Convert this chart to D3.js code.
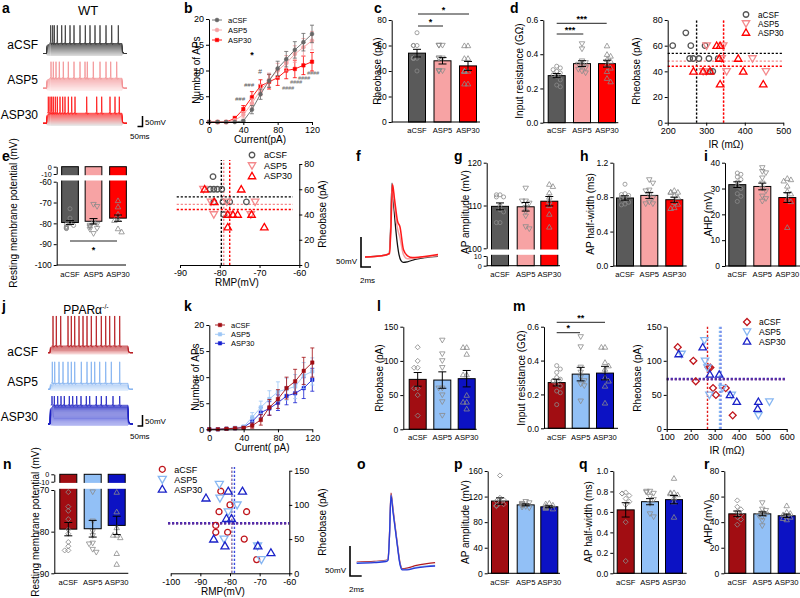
<!DOCTYPE html>
<html><head><meta charset="utf-8">
<script src="https://cdn.jsdelivr.net/npm/d3@7"></script>
<style>
body{margin:0;background:#fff}
svg{font-family:"Liberation Sans",Arial,Helvetica,sans-serif}
</style></head><body>
<svg id="c" width="800" height="598"></svg>
<script>
// ---------------- DATA ----------------
const groups = ["aCSF", "ASP5", "ASP30"];
const colWT = ["#5a5a5a", "#f7a3a4", "#ff0000"];
const colWTmk = ["#555555", "#f4898c", "#ff0000"];
const colKO = ["#a10d12", "#92c0f6", "#0c12c4"];

// b / k : number of APs vs current
const currents = [0, 10, 20, 30, 40, 50, 60, 70, 80, 90, 100, 110, 120];
const apsWT_aCSF = [0, 0, 0, 0, 0.2, 2.4, 5.4, 8.0, 10.4, 12.2, 14.0, 15.5, 17.1];
const apsWT_ASP5 = [0, 0, 0, 0.3, 1.4, 3.6, 6.2, 8.2, 10.0, 11.4, 13.2, 14.5, 15.8];
const apsWT_ASP30 = [0, 0, 0, 0.7, 2.5, 4.8, 7.0, 7.8, 8.6, 10.0, 10.3, 11.0, 11.7];
const errWT_aCSF = [0, 0, 0, 0, 0.2, 0.8, 1.0, 1.3, 1.4, 1.5, 1.6, 1.7, 1.7];
const errWT_ASP5 = [0, 0, 0, 0.3, 0.6, 0.9, 1.1, 1.3, 1.4, 1.5, 1.6, 1.7, 1.8];
const errWT_ASP30 = [0, 0, 0, 0.4, 0.7, 1.1, 1.2, 1.4, 1.5, 1.6, 1.7, 1.8, 1.8];
const apsKO_aCSF = [0, 0, 0.1, 0.2, 0.3, 0.7, 1.8, 4.2, 5.8, 7.9, 9.2, 11.2, 12.8];
const apsKO_ASP5 = [0, 0, 0.1, 0.3, 0.5, 2.3, 4.2, 5.8, 7.2, 7.7, 8.2, 10.3, 11.1];
const apsKO_ASP30 = [0, 0, 0.1, 0.2, 0.4, 1.5, 3.2, 4.0, 5.1, 6.4, 6.9, 7.9, 9.5];
const errKO_aCSF = [0, 0, 0.1, 0.1, 0.2, 0.5, 1.0, 1.5, 1.8, 2.1, 2.3, 2.6, 2.8];
const errKO_ASP5 = [0, 0, 0.1, 0.2, 0.3, 0.9, 1.2, 1.6, 1.9, 2.1, 2.3, 2.5, 2.6];
const errKO_ASP30 = [0, 0, 0.1, 0.1, 0.2, 0.7, 1.0, 1.3, 1.5, 1.7, 1.8, 2.0, 2.2];

// c rheobase WT
const rheoWT_aCSF = [70, 60, 60, 60, 50, 50, 50, 50, 50, 40];
const rheoWT_ASP5 = [60, 60, 60, 50, 50, 50, 40, 40, 40, 40];
const rheoWT_ASP30 = [60, 60, 50, 50, 40, 40, 40, 40, 30, 30];
const rheoWT_mean = [54, 48, 44];
const rheoWT_err = [3, 2.5, 3.5];
// d input resistance WT (GOhm)
const irWT_aCSF = [0.33, 0.32, 0.31, 0.30, 0.29, 0.28, 0.27, 0.25, 0.22, 0.21];
const irWT_ASP5 = [0.46, 0.43, 0.36, 0.35, 0.34, 0.33, 0.32, 0.31, 0.30, 0.29];
const irWT_ASP30 = [0.45, 0.40, 0.39, 0.37, 0.36, 0.34, 0.32, 0.30, 0.26, 0.24];
const irWT_mean = [0.275, 0.345, 0.345];
const irWT_err = [0.012, 0.017, 0.02];
// d right: IR (mOhm) vs rheobase
const irRheoWT_aCSF = [[213, 60], [247, 70], [260, 60], [257, 50], [266, 50], [281, 50], [297, 60], [307, 50], [310, 40], [317, 40], [331, 50]];
const irRheoWT_ASP5 = [[301, 60], [344, 60], [340, 50], [353, 40], [420, 50], [455, 40], [292, 40], [300, 40]];
const irRheoWT_ASP30 = [[267, 40], [292, 40], [327, 60], [336, 60], [334, 50], [336, 30], [383, 50], [396, 40], [448, 30], [310, 40]];
// e RMP WT
const rmpWT_aCSF = [-73, -77.5, -80, -80.5, -81, -81.5, -82, -82, -82.5, -82.5];
const rmpWT_ASP5 = [-71, -72, -79.5, -80.5, -81, -81.5, -82, -82.5, -83, -85];
const rmpWT_ASP30 = [-69, -72, -75.5, -78, -78.5, -82.5, -84];
const rmpWT_mean = [-79.6, -79, -77.5];
const rmpWT_err = [0.9, 1.3, 1.5];
const rmpRheoWT_aCSF = [[-81.7, 70], [-82.4, 60], [-81.5, 60], [-80.6, 60], [-79.5, 60], [-81.5, 50], [-79.2, 50], [-77.5, 50], [-73.3, 50], [-79, 40]];
const rmpRheoWT_ASP5 = [[-84.1, 60], [-81.5, 40], [-78.2, 50], [-71.1, 50], [-72.2, 40], [-82.2, 50], [-77.6, 40]];
const rmpRheoWT_ASP30 = [[-83.8, 60], [-81.4, 50], [-78, 40], [-76.7, 40], [-75.5, 40], [-74.6, 60], [-78, 30], [-68.8, 30], [-72, 40]];
// g,h,i WT
const ampWT_aCSF = [112.5, 112.5, 112, 112, 110, 109, 108.5, 106, 106];
const ampWT_ASP5 = [114, 111, 111, 110.5, 109.5, 108.5, 107.5, 105, 104.5];
const ampWT_ASP30 = [115, 114.5, 113, 112, 111, 110, 108, 105];
const ampWT_mean = [109.8, 109.7, 111];
const ampWT_err = [0.8, 1.0, 1.1];
const hwWT_aCSF = [0.95, 0.84, 0.83, 0.82, 0.80, 0.79, 0.77, 0.74, 0.72, 0.71];
const hwWT_ASP5 = [1.0, 0.96, 0.88, 0.87, 0.82, 0.79, 0.74, 0.72, 0.72];
const hwWT_ASP30 = [0.88, 0.86, 0.86, 0.86, 0.82, 0.80, 0.74, 0.72, 0.68, 0.67];
const hwWT_mean = [0.79, 0.82, 0.77];
const hwWT_err = [0.025, 0.035, 0.03];
const ahpWT_aCSF = [36, 35.5, 34.5, 33.5, 32.5, 31, 30, 28, 27, 25];
const ahpWT_ASP5 = [38, 36.5, 36, 34, 32, 30, 29, 27, 26, 25];
const ahpWT_ASP30 = [34, 33.5, 33, 31, 29, 28, 26, 25, 15];
const ahpWT_mean = [31.5, 30.8, 26.5];
const ahpWT_err = [1.1, 1.3, 1.9];
// l,m,n KO
const rheoKO_aCSF = [120, 100, 90, 90, 60, 60, 50, 20];
const rheoKO_ASP5 = [130, 110, 100, 90, 60, 60, 50, 40, 20];
const rheoKO_ASP30 = [120, 120, 110, 80, 80, 50, 40, 40, 30];
const rheoKO_mean = [73, 72, 74];
const rheoKO_err = [10, 12, 12];
const irKO_aCSF = [0.37, 0.35, 0.33, 0.30, 0.29, 0.28, 0.28, 0.26, 0.25, 0.22, 0.21, 0.14];
const irKO_ASP5 = [0.54, 0.48, 0.36, 0.33, 0.30, 0.28, 0.26, 0.25, 0.16];
const irKO_ASP30 = [0.48, 0.48, 0.39, 0.37, 0.35, 0.30, 0.28, 0.25, 0.15];
const irKO_mean = [0.27, 0.32, 0.326];
const irKO_err = [0.02, 0.04, 0.04];
const irRheoKO_aCSF = [[146, 120], [211, 100], [221, 70], [275, 90], [282, 90], [293, 60], [305, 50], [346, 60], [375, 20]];
const irRheoKO_ASP5 = [[162, 110], [257, 130], [260, 100], [270, 90], [278, 50], [333, 60], [371, 50], [482, 20], [528, 40]];
const irRheoKO_ASP30 = [[150, 110], [250, 120], [280, 80], [319, 80], [364, 50], [392, 40], [482, 40], [479, 30]];
const rmpKO_aCSF = [-70.5, -74, -75, -77, -79.5, -80.5, -82.5, -83.5, -84.5, -84.5];
const rmpKO_ASP5 = [-70.5, -77.5, -80, -81, -82.8, -83, -84.3, -85];
const rmpKO_ASP30 = [-70.5, -75.2, -79, -80.8, -80.8, -81.4, -85.2, -87.8];
const rmpKO_mean = [-79.4, -79.3, -78.5];
const rmpKO_err = [1.6, 2.0, 2.2];
const rmpRheoKO_aCSF = [[-83.1, 120], [-80, 100], [-83.7, 90], [-74.4, 90], [-84.8, 70], [-84.8, 60], [-80.8, 60], [-75.2, 50], [-71, 20]];
const rmpRheoKO_ASP5 = [[-83.6, 130], [-83.4, 110], [-80.6, 90], [-77.6, 100], [-82, 50], [-69.4, 20], [-70.7, 40]];
const rmpRheoKO_ASP30 = [[-88.1, 110], [-80.6, 120], [-75.8, 120], [-81.2, 80], [-79.5, 80], [-85.5, 50], [-81.7, 40], [-70.6, 40], [-66.2, 30]];
// p,q,r KO
const ampKO_aCSF = [153, 118, 115, 113, 110, 108, 106, 105];
const ampKO_ASP5 = [112, 110, 109, 108, 107, 106, 104, 103, 102];
const ampKO_ASP30 = [110, 109, 107, 105, 104, 103, 102, 101];
const ampKO_mean = [113, 107, 104];
const ampKO_err = [5, 1.5, 1.5];
const hwKO_aCSF = [0.79, 0.78, 0.78, 0.76, 0.73, 0.70, 0.67, 0.50, 0.12];
const hwKO_ASP5 = [0.80, 0.80, 0.79, 0.78, 0.75, 0.72, 0.68, 0.58, 0.55];
const hwKO_ASP30 = [0.93, 0.79, 0.79, 0.78, 0.77, 0.74, 0.70, 0.55];
const hwKO_mean = [0.62, 0.70, 0.72];
const hwKO_err = [0.07, 0.03, 0.04];
const ahpKO_aCSF = [57, 52, 50, 48, 46, 44, 42, 38];
const ahpKO_ASP5 = [55, 50, 49, 47, 46, 45, 44, 41, 37];
const ahpKO_ASP30 = [53, 48, 47, 46, 45, 44, 43, 42];
const ahpKO_mean = [46.5, 46.5, 45];
const ahpKO_err = [2.2, 1.5, 1.3];

// traces (a, j): step deflections (mV) and spike times (ms)
const stepsWT = [-10, -5, 0, 5, 10, 15, 20, 25, 30, 35, 40, 45, 50];
const spikesWT_aCSF = [77, 97, 113, 143, 187, 223, 270, 310, 370, 423, 470, 520, 570, 630, 687, 753];
const spikesWT_ASP5 = [80, 103, 130, 163, 203, 253, 310, 370, 420, 443, 503, 570, 630, 677, 737];
const spikesWT_ASP30 = [53, 70, 87, 103, 123, 143, 170, 197, 220, 253, 287, 320, 437, 537, 587, 670, 720, 763];
const peakWT = [141, 133, 133];
const stepsKO_aCSF = [-5, 0, 5, 10, 15, 20, 25, 30];
const stepsKO_ASP5 = [-5, 0, 5, 10, 15, 20, 27];
const stepsKO_ASP30 = [-5, 0, 5, 10, 15, 20, 25, 30, 35, 40, 45, 50, 55, 60, 65, 70, 75, 80, 85];
const spikesKO_aCSF = [50, 83, 127, 200, 233, 267, 310, 350, 390, 433, 483, 533, 577, 617, 667, 717];
const spikesKO_ASP5 = [43, 67, 110, 150, 200, 233, 267, 333, 390, 433, 467, 517, 577, 633, 717];
const spikesKO_ASP30 = [40, 63, 97, 130, 163, 213, 247, 287, 330, 383, 417, 483, 533, 583, 650, 717];
const peakKO = [167, 125, 127];
// single APs (f, o): [ms, mV]
const apF_aCSF = [[0, -62], [2, -61], [4, -59], [4.8, -57], [5.1, -20], [5.4, 61], [5.7, 30], [6.2, -20], [6.8, -58], [7.2, -68], [7.7, -71], [8.5, -70], [10, -66], [12, -63], [14.6, -61]];
const apF_ASP5 = [[0, -62], [2, -61], [4, -59], [4.85, -56.5], [5.15, -15], [5.45, 60], [5.8, 32], [6.4, -10], [7, -30], [7.7, -58], [8.5, -65], [10, -64], [12, -62], [14.6, -60]];
const apF_ASP30 = [[0, -62], [2, -61], [4, -59], [4.9, -56], [5.2, -10], [5.5, 59], [5.9, 35], [6.5, -2], [7, -12], [7.7, -50], [8.5, -60], [9.5, -63], [11, -62], [13, -60], [14.6, -58]];
const apO_aCSF = [[0, -64], [3, -63], [5, -61], [5.35, -59], [5.6, -20], [5.86, 51], [6.2, 25], [6.9, -30], [7.4, -65], [7.8, -75], [8.6, -74], [10, -70], [12, -66.5], [13.4, -65]];
const apO_ASP5 = [[0, -65], [3, -64], [5, -62], [5.35, -60], [5.6, -22], [5.86, 48], [6.2, 22], [6.9, -32], [7.4, -67], [7.8, -76], [8.6, -76], [10, -73], [12, -70.5], [13.4, -69.5]];
const apO_ASP30 = [[0, -66], [3, -65], [5, -63], [5.35, -61], [5.6, -22], [5.86, 47], [6.2, 20], [6.9, -33], [7.4, -68], [7.8, -77], [8.6, -77], [10, -74], [12, -71.5], [13.4, -70.5]];

// ---------------- DRAWING ----------------
const svg = d3.select("#c");
const FF = '"Liberation Sans", Arial, Helvetica, sans-serif';

function txt(x, y, s, o = {}) {
  const t = svg.append("text").attr("x", x).attr("y", y).text(s)
    .attr("font-size", o.size || 9).attr("text-anchor", o.anchor || "start")
    .attr("fill", o.fill || "#000").attr("font-family", FF);
  if (o.bold) t.attr("font-weight", "bold");
  if (o.italic) t.attr("font-style", "italic");
  if (o.rot) t.attr("transform", `rotate(-90,${x},${y})`).attr("dy", "0.35em");
  return t;
}
function styleAxis(a, fs = 8.5) {
  a.attr("font-family", FF).attr("font-size", fs);
  a.select(".domain").attr("stroke", "#000").attr("stroke-width", 1);
  a.selectAll(".tick line").attr("stroke", "#000").attr("stroke-width", 1);
  a.selectAll(".tick text").attr("fill", "#000").attr("font-size", fs);
}
function marker(g, shape, x, y, size, stroke, fill, sw) {
  const type = shape === "circle" ? d3.symbolCircle : shape === "diamond" ? d3.symbolSquare :
    shape === "square" ? d3.symbolSquare : d3.symbolTriangle;
  const rot = shape === "down" ? 180 : shape === "diamond" ? 45 : 0;
  const dy = shape === "up" ? 0.6 : shape === "down" ? -0.6 : 0;
  g.append("path").attr("d", d3.symbol().type(type).size(size)())
    .attr("transform", `translate(${x},${y + dy}) rotate(${rot})`)
    .attr("fill", fill || "none").attr("stroke", stroke).attr("stroke-width", sw || 1);
}
function fmtNum(d) { return String(d); }

function barPanel(o) {
  const g = svg.append("g");
  const segs = o.segs.map(s => ({ ticks: s.ticks, fs: s.fs, sc: d3.scaleLinear().domain(s.domain).range(s.range),
    lo: Math.min(...s.domain), hi: Math.max(...s.domain), r: s.range }));
  const y = v => {
    for (const s of segs) if (v >= s.lo - 1e-9 && v <= s.hi + 1e-9) return s.sc(v);
    let best = segs[0], dd = Infinity;
    for (const s of segs) { const d = Math.min(Math.abs(v - s.lo), Math.abs(v - s.hi)); if (d < dd) { dd = d; best = s; } }
    return best.sc(v);
  };
  const base = o.base || 0;
  o.means.forEach((m, i) => {
    const y0 = y(base), y1 = y(m);
    g.append("rect").attr("x", o.centers[i] - o.bw / 2).attr("width", o.bw)
      .attr("y", Math.min(y0, y1)).attr("height", Math.abs(y1 - y0))
      .attr("fill", o.colors[i]).attr("stroke", "#000").attr("stroke-width", 1);
  });
  const sorted = segs.slice().sort((a, b) => Math.min(...a.r) - Math.min(...b.r));
  for (let k = 0; k < sorted.length - 1; k++) {
    const top = Math.max(...sorted[k].r), bot = Math.min(...sorted[k + 1].r);
    g.append("rect").attr("x", o.ax + 1).attr("width", o.xEnd - o.ax).attr("y", top + 1.2)
      .attr("height", Math.max(0, bot - top - 2.4)).attr("fill", "#fff");
  }
  o.pts.forEach((arr, i) => {
    const placed = [];
    const step = 3.6, lim = o.bw / 2 - 1.5;
    arr.forEach(v => {
      const py = y(v);
      let off = 0;
      for (let k = 0; k < 12; k++) {
        const c = (k % 2 ? 1 : -1) * Math.ceil(k / 2) * step;
        if (Math.abs(c) > lim) continue;
        if (placed.every(p => Math.hypot(p[0] - c, p[1] - py) >= 3.8)) { off = c; break; }
        off = c;
      }
      placed.push([off, py]);
      marker(g, o.shapes[i], o.centers[i] + off, py, o.msize || 13, o.ptColor || "#8a8a8a", "none", 0.8);
    });
  });
  o.means.forEach((m, i) => {
    const cx = o.centers[i], e = o.errs[i];
    const ya = y(m - e), yb = y(m + e);
    g.append("line").attr("x1", cx).attr("x2", cx).attr("y1", ya).attr("y2", yb).attr("stroke", "#000").attr("stroke-width", 1);
    [ya, yb].forEach(yy => g.append("line").attr("x1", cx - 4).attr("x2", cx + 4).attr("y1", yy).attr("y2", yy).attr("stroke", "#000").attr("stroke-width", 1));
  });
  segs.forEach(s => {
    const a = g.append("g").attr("transform", `translate(${o.ax},0)`)
      .call(d3.axisLeft(s.sc).tickValues(s.ticks).tickSize(3).tickPadding(2).tickSizeOuter(0).tickFormat(o.fmt || fmtNum));
    styleAxis(a, s.fs || 8.5);
  });
  const yAx = y(o.xAxisAt !== undefined ? o.xAxisAt : 0);
  g.append("line").attr("x1", o.ax).attr("x2", o.xEnd).attr("y1", yAx).attr("y2", yAx).attr("stroke", "#000").attr("stroke-width", 1);
  groups.forEach((c, i) => txt(o.centers[i], o.catY, c, { anchor: "middle", size: 7.6 }));
  txt(o.ylx, o.yly, o.ylabel, { anchor: "middle", size: 10, rot: true });
  (o.sig || []).forEach(s => {
    g.append("line").attr("x1", s.x1).attr("x2", s.x2).attr("y1", s.y).attr("y2", s.y).attr("stroke", "#222").attr("stroke-width", 1);
    txt((s.x1 + s.x2) / 2, s.ty, s.t, { anchor: "middle", size: 9, bold: true });
  });
}

function scatterPanel(o) {
  const g = svg.append("g");
  const x = d3.scaleLinear().domain(o.xd).range(o.xr);
  const y = d3.scaleLinear().domain(o.yd).range(o.yr);
  (o.vlines || []).forEach(v => g.append("line").attr("x1", x(v.v)).attr("x2", x(v.v))
    .attr("y1", o.vy1 !== undefined ? o.vy1 : o.yr[0]).attr("y2", o.vy2 !== undefined ? o.vy2 : o.yr[1])
    .attr("stroke", v.c).attr("stroke-width", 1.4).attr("stroke-dasharray", "2.2,1.8"));
  (o.hlines || []).forEach(v => g.append("line").attr("y1", y(v.v)).attr("y2", y(v.v))
    .attr("x1", o.hx1 !== undefined ? o.hx1 : o.xr[0]).attr("x2", o.hx2 !== undefined ? o.hx2 : o.xr[1])
    .attr("stroke", v.c).attr("stroke-width", 1.4).attr("stroke-dasharray", "2.2,1.8"));
  o.series.forEach(s => s.pts.forEach(p => marker(g, s.shape, x(p[0]), y(p[1]), o.msize || 24, s.c, "none", 1.3)));
  const xa = g.append("g").attr("transform", `translate(0,${o.yr[0]})`)
    .call(d3.axisBottom(x).tickValues(o.xt).tickSize(3).tickPadding(2).tickSizeOuter(0).tickFormat(fmtNum));
  styleAxis(xa, 9);
  const ya = g.append("g").attr("transform", `translate(${o.yRight ? o.xr[1] : o.xr[0]},0)`)
    .call((o.yRight ? d3.axisRight(y) : d3.axisLeft(y)).tickValues(o.yt).tickSize(3).tickPadding(2).tickSizeOuter(0).tickFormat(fmtNum));
  styleAxis(ya, 9);
  txt(o.xlx, o.xly, o.xlabel, { anchor: "middle", size: 10 });
  txt(o.ylx, o.yly, o.ylabel, { anchor: "middle", size: 10, rot: true });
  o.series.forEach((s, i) => {
    marker(g, s.shape, o.legX, o.legY[i], o.msize || 24, s.c, "none", 1.3);
    txt(o.legX + 12, o.legY[i] + 3.2, groups[i], { size: o.legFs || 9 });
  });
}

function linePanel(o) {
  const g = svg.append("g");
  const x = d3.scaleLinear().domain([0, 120]).range(o.xr);
  const y = d3.scaleLinear().domain([0, 20]).range(o.yr);
  const line = d3.line().x((d, i) => x(currents[i])).y(d => y(d));
  [2, 1, 0].forEach(i => {
    const s = o.series[i];
    g.append("path").attr("d", line(s.v)).attr("fill", "none").attr("stroke", s.c).attr("stroke-width", 0.9);
    s.v.forEach((v, k) => {
      const e = s.e[k];
      if (e > 0) {
        const cx = x(currents[k]);
        g.append("line").attr("x1", cx).attr("x2", cx).attr("y1", y(v - e)).attr("y2", y(v + e)).attr("stroke", s.c).attr("stroke-width", 0.8);
        [v - e, v + e].forEach(vv => g.append("line").attr("x1", cx - 2).attr("x2", cx + 2).attr("y1", y(vv)).attr("y2", y(vv)).attr("stroke", s.c).attr("stroke-width", 0.8));
      }
    });
    s.v.forEach((v, k) => marker(g, s.shape, x(currents[k]), y(v), 12, s.c, s.c, 0.5));
  });
  const xa = g.append("g").attr("transform", `translate(0,${o.yr[0]})`)
    .call(d3.axisBottom(x).tickValues([0, 40, 80, 120]).tickSize(3).tickPadding(2).tickSizeOuter(0).tickFormat(fmtNum));
  styleAxis(xa, 9);
  const ya = g.append("g").attr("transform", `translate(${o.xr[0]},0)`)
    .call(d3.axisLeft(y).tickValues([0, 5, 10, 15, 20]).tickSize(3).tickPadding(2).tickSizeOuter(0).tickFormat(fmtNum));
  styleAxis(ya, 9);
  txt(o.xlx, o.xly, o.xlabel, { anchor: "middle", size: 10 });
  txt(o.ylx, o.yly, "Number of APs", { anchor: "middle", size: 10, rot: true });
  o.series.forEach((s, i) => {
    g.append("line").attr("x1", o.legX - 5).attr("x2", o.legX + 5).attr("y1", o.legY[i]).attr("y2", o.legY[i]).attr("stroke", s.c).attr("stroke-width", 0.9);
    marker(g, s.shape, o.legX, o.legY[i], 12, s.c, s.c, 0.5);
    txt(o.legX + 11, o.legY[i] + 3, groups[i], { size: 7.5 });
  });
}

function traceGroup(o) {
  const g = svg.append("g");
  const t = d3.scaleLinear().domain([0, o.tEnd]).range([o.x0, o.x1]);
  const v = d3.scaleLinear().domain([0, 50]).range([o.baseY, o.baseY - 50 * o.pxmv]);
  const line = d3.line().x(d => t(d[0])).y(d => v(d[1]));
  const cs = d3.interpolateRgb(o.cLo, o.cHi);
  const n = o.steps.length;
  o.steps.forEach((d, i) => {
    const pts = [[0, 0], [o.on, 0], [o.on + 4, d * 0.8], [o.on + 40, d], [o.off, d], [o.off + 6, d * 0.15], [o.off + 25, 0], [o.tEnd, 0]];
    g.append("path").attr("d", line(pts)).attr("fill", "none").attr("stroke", cs(i / (n - 1))).attr("stroke-width", 0.8);
  });
  const top = o.steps[n - 1];
  o.spikes.forEach(ts => {
    const pts = [[ts - 9, top], [ts - 2, top + 8], [ts, o.peak], [ts + 3, top - 2], [ts + 9, top - 5], [ts + 18, top]];
    g.append("path").attr("d", line(pts)).attr("fill", "none").attr("stroke", o.cHi).attr("stroke-width", 0.8);
  });
}

function apPanel(o) {
  const g = svg.append("g");
  const t = d3.scaleLinear().domain([0, 1]).range([o.x0, o.x0 + o.pxms]);
  const v = d3.scaleLinear().domain([o.v0, o.v0 + 50]).range([o.y0, o.y0 - 50 * o.pxmv]);
  const line = d3.line().x(d => t(d[0])).y(d => v(d[1])).curve(d3.curveMonotoneX);
  o.traces.forEach(tr => g.append("path").attr("d", line(tr.d)).attr("fill", "none").attr("stroke", tr.c).attr("stroke-width", tr.w || 1.3));
  g.append("path").attr("d", `M${o.sbx},${o.sby - 50 * o.pxmv}V${o.sby}H${o.sbx + 2 * o.pxms}`).attr("fill", "none").attr("stroke", "#000").attr("stroke-width", 1.6);
  txt(o.sbx - 4, o.sby - 3, "50mV", { anchor: "end", size: 8 });
  txt(o.sbx - 1, o.sby + 16, "2ms", { size: 8 });
}

// ---- panel letters & titles ----
[["a", 2, 13], ["b", 184, 13], ["c", 374, 13], ["d", 510, 13], ["e", 2, 161], ["f", 356, 161], ["g", 454, 161], ["h", 580, 161],
 ["i", 704, 161], ["j", 2, 311], ["k", 184, 311], ["l", 377, 311], ["m", 513, 311], ["n", 3, 469], ["o", 357, 469], ["p", 454, 469],
 ["q", 579, 469], ["r", 704, 469]].forEach(d => txt(d[1], d[2], d[0], { size: 14, bold: true }));
txt(88, 15, "WT", { anchor: "middle", size: 13 });
const pt = txt(86, 314, "PPARα", { anchor: "middle", size: 12 });
pt.append("tspan").attr("dy", -5).attr("font-size", 7).text("-/-");

// ---- a: traces WT ----
["aCSF", "ASP5", "ASP30"].forEach((s, i) => txt(38, [49, 84, 119][i], s, { anchor: "end", size: 12 }));
traceGroup({ x0: 43, x1: 127, tEnd: 840, on: 35, off: 790, baseY: 53.5, pxmv: 0.2, steps: stepsWT, spikes: spikesWT_aCSF, peak: peakWT[0], cLo: "#cfcfcf", cHi: "#333" });
traceGroup({ x0: 43, x1: 127, tEnd: 840, on: 35, off: 790, baseY: 88.3, pxmv: 0.2, steps: stepsWT, spikes: spikesWT_ASP5, peak: peakWT[1], cLo: "#fde3e3", cHi: "#f28f92" });
traceGroup({ x0: 43, x1: 127, tEnd: 840, on: 35, off: 790, baseY: 123.3, pxmv: 0.2, steps: stepsWT, spikes: spikesWT_ASP30, peak: peakWT[2], cLo: "#d9d9d9", cHi: "#ff1010" });
svg.append("path").attr("d", "M142.5,116V126.5H137.5").attr("fill", "none").attr("stroke", "#000").attr("stroke-width", 1.5);
txt(145, 125, "50mV", { size: 8 }); txt(130, 139, "50ms", { size: 8 });

// ---- j: traces KO ----
["aCSF", "ASP5", "ASP30"].forEach((s, i) => txt(38, [356, 386, 421][i], s, { anchor: "end", size: 12 }));
traceGroup({ x0: 48, x1: 133, tEnd: 850, on: 20, off: 800, baseY: 352.7, pxmv: 0.22, steps: stepsKO_aCSF, spikes: spikesKO_aCSF, peak: peakKO[0], cLo: "#f0b8b8", cHi: "#b31217" });
traceGroup({ x0: 48, x1: 133, tEnd: 850, on: 20, off: 800, baseY: 389.3, pxmv: 0.22, steps: stepsKO_ASP5, spikes: spikesKO_ASP5, peak: peakKO[1], cLo: "#d8e8fc", cHi: "#7fb0f0" });
traceGroup({ x0: 48, x1: 133, tEnd: 850, on: 20, off: 800, baseY: 424, pxmv: 0.22, steps: stepsKO_ASP30, spikes: spikesKO_ASP30, peak: peakKO[2], cLo: "#7f86e8", cHi: "#1a1ec0" });
svg.append("path").attr("d", "M142.5,415V426H137.5").attr("fill", "none").attr("stroke", "#000").attr("stroke-width", 1.5);
txt(145, 424, "50mV", { size: 8 }); txt(130, 439, "50ms", { size: 8 });

// ---- b, k ----
linePanel({ xr: [209, 312], yr: [122, 19], xlabel: "Current(pA)", xlx: 260, xly: 143, ylx: 196, yly: 70, legX: 217, legY: [20, 30, 40],
  series: [{ v: apsWT_aCSF, e: errWT_aCSF, c: "#666", shape: "circle" }, { v: apsWT_ASP5, e: errWT_ASP5, c: "#f6a0a2", shape: "circle" }, { v: apsWT_ASP30, e: errWT_ASP30, c: "#ff0000", shape: "square" }] });
[["*", 252, 58, "#000", 9], ["#", 260, 74, "#555", 7], ["###", 249, 87, "#555", 6], ["###", 240, 101, "#555", 6],
 ["####", 288, 90, "#666", 5.5], ["####", 296, 84, "#666", 5.5], ["####", 304, 80, "#666", 5.5], ["####", 313, 75, "#666", 5.5]]
  .forEach(d => txt(d[1], d[2], d[0], { anchor: "middle", size: d[4], fill: d[3], bold: d[0] === "*", italic: d[0] !== "*" }));
linePanel({ xr: [209.3, 312.3], yr: [429.3, 325], xlabel: "Current( pA)", xlx: 262, xly: 451, ylx: 195, yly: 377, legX: 220, legY: [325, 334.3, 343.3],
  series: [{ v: apsKO_aCSF, e: errKO_aCSF, c: colKO[0], shape: "square" }, { v: apsKO_ASP5, e: errKO_ASP5, c: "#9cc6f6", shape: "square" }, { v: apsKO_ASP30, e: errKO_ASP30, c: "#1620d0", shape: "square" }] });

// ---- bar panels WT ----
const shWT = ["circle", "down", "up"];
barPanel({ ax: 391.7, xEnd: 480, centers: [417, 442.5, 468], bw: 17, segs: [{ domain: [0, 80], range: [122, 20], ticks: [0, 20, 40, 60, 80] }],
  means: rheoWT_mean, errs: rheoWT_err, pts: [rheoWT_aCSF, rheoWT_ASP5, rheoWT_ASP30], shapes: shWT, colors: colWT,
  catY: 133, ylabel: "Rheobase (pA)", ylx: 377, yly: 71,
  sig: [{ x1: 418, x2: 443, y: 26, ty: 24.5, t: "*" }, { x1: 418, x2: 469, y: 14, ty: 12.5, t: "*" }] });
barPanel({ ax: 543.3, xEnd: 618.3, centers: [556.7, 582, 607], bw: 17, segs: [{ domain: [0, 0.6], range: [122.7, 20], ticks: [0, 0.2, 0.4, 0.6] }],
  fmt: d3.format(".1f"), means: irWT_mean, errs: irWT_err, pts: [irWT_aCSF, irWT_ASP5, irWT_ASP30], shapes: shWT, colors: colWT,
  catY: 133, ylabel: "Input resistance (GΩ)", ylx: 519, yly: 71,
  sig: [{ x1: 556.7, x2: 583.3, y: 34, ty: 32.5, t: "***" }, { x1: 556.7, x2: 606.7, y: 23.3, ty: 21.8, t: "***" }] });
barPanel({ ax: 56.7, xEnd: 126, centers: [70, 93.5, 118], bw: 16.7, base: 0, xAxisAt: -100,
  segs: [{ domain: [-10, 0], range: [174, 166.7], ticks: [0, -10], fs: 7.2 }, { domain: [-100, -60], range: [265, 181.7], ticks: [-60, -70, -80, -90, -100] }],
  means: rmpWT_mean, errs: rmpWT_err, pts: [rmpWT_aCSF, rmpWT_ASP5, rmpWT_ASP30], shapes: shWT, colors: colWT,
  catY: 277, ylabel: "Resting membrane potential (mV)", ylx: 13, yly: 213,
  sig: [{ x1: 70, x2: 117, y: 241, ty: 253, t: "*" }] });
barPanel({ ax: 486.7, xEnd: 560, centers: [500, 525.7, 549.3], bw: 17,
  segs: [{ domain: [0, 10], range: [265.7, 256], ticks: [0, 10], fs: 7.2 }, { domain: [100, 120], range: [248.3, 162.7], ticks: [100, 110, 120] }],
  means: ampWT_mean, errs: ampWT_err, pts: [ampWT_aCSF, ampWT_ASP5, ampWT_ASP30], shapes: shWT, colors: colWT,
  catY: 277, ylabel: "AP amplitude (mV)", ylx: 465, yly: 212 });
barPanel({ ax: 613.3, xEnd: 686.7, centers: [625, 649.3, 674.3], bw: 17, segs: [{ domain: [0, 1.2], range: [266, 162.7], ticks: [0, 0.4, 0.8, 1.2] }],
  fmt: d3.format(".1f"), means: hwWT_mean, errs: hwWT_err, pts: [hwWT_aCSF, hwWT_ASP5, hwWT_ASP30], shapes: shWT, colors: colWT,
  catY: 277, ylabel: "AP half-width (ms)", ylx: 590, yly: 214 });
barPanel({ ax: 725, xEnd: 800, centers: [737.3, 762.3, 787.3], bw: 17, segs: [{ domain: [0, 40], range: [266, 162.7], ticks: [0, 10, 20, 30, 40] }],
  means: ahpWT_mean, errs: ahpWT_err, pts: [ahpWT_aCSF, ahpWT_ASP5, ahpWT_ASP30], shapes: shWT, colors: colWT,
  catY: 277, ylabel: "AHP (mV)", ylx: 708, yly: 214 });

// ---- bar panels KO ----
const shKO = ["diamond", "down", "up"];
barPanel({ ax: 403.3, xEnd: 476.7, centers: [417.7, 442.3, 466.7], bw: 17, segs: [{ domain: [0, 150], range: [429.3, 326.7], ticks: [0, 50, 100, 150] }],
  means: rheoKO_mean, errs: rheoKO_err, pts: [rheoKO_aCSF, rheoKO_ASP5, rheoKO_ASP30], shapes: shKO, colors: colKO,
  catY: 440, ylabel: "Rheobase (pA)", ylx: 379, yly: 378 });
barPanel({ ax: 544, xEnd: 618, centers: [556.7, 580.7, 605], bw: 17, segs: [{ domain: [0, 0.6], range: [428.3, 326.7], ticks: [0, 0.2, 0.4, 0.6] }],
  fmt: d3.format(".1f"), means: irKO_mean, errs: irKO_err, pts: [irKO_aCSF, irKO_ASP5, irKO_ASP30], shapes: shWT, colors: colKO,
  catY: 440, ylabel: "Input resistance (GΩ)", ylx: 521, yly: 378,
  sig: [{ x1: 556.7, x2: 580, y: 332.7, ty: 331, t: "*" }, { x1: 556.7, x2: 605, y: 322.3, ty: 320.5, t: "**" }] });
barPanel({ ax: 54.3, xEnd: 128.3, centers: [68.3, 92.7, 116.7], bw: 17, base: 0, xAxisAt: -90,
  segs: [{ domain: [-10, 0], range: [481.7, 474.3], ticks: [0, -10], fs: 7.2 }, { domain: [-90, -70], range: [573.3, 490], ticks: [-70, -80, -90] }],
  means: rmpKO_mean, errs: rmpKO_err, pts: [rmpKO_aCSF, rmpKO_ASP5, rmpKO_ASP30], shapes: shKO, colors: colKO,
  catY: 585, ylabel: "Resting membrane potential (mV)", ylx: 35, yly: 522 });
barPanel({ ax: 487.7, xEnd: 560, centers: [500, 525.7, 549.3], bw: 17, segs: [{ domain: [0, 160], range: [573.3, 471], ticks: [0, 40, 80, 120, 160] }],
  means: ampKO_mean, errs: ampKO_err, pts: [ampKO_aCSF, ampKO_ASP5, ampKO_ASP30], shapes: shKO, colors: colKO,
  catY: 585, ylabel: "AP amplitude (mV)", ylx: 465, yly: 522 });
barPanel({ ax: 613.3, xEnd: 686.7, centers: [625.7, 650, 674], bw: 17, segs: [{ domain: [0, 1], range: [573.3, 471], ticks: [0, 0.2, 0.4, 0.6, 0.8, 1.0] }],
  fmt: d3.format(".1f"), means: hwKO_mean, errs: hwKO_err, pts: [hwKO_aCSF, hwKO_ASP5, hwKO_ASP30], shapes: shKO, colors: colKO,
  catY: 585, ylabel: "AP half-width (ms)", ylx: 588, yly: 522 });
barPanel({ ax: 724.3, xEnd: 800, centers: [737.3, 762.3, 786.7], bw: 17, segs: [{ domain: [0, 80], range: [573.3, 471], ticks: [0, 20, 40, 60, 80] }],
  means: ahpKO_mean, errs: ahpKO_err, pts: [ahpKO_aCSF, ahpKO_ASP5, ahpKO_ASP30], shapes: shKO, colors: colKO,
  catY: 585, ylabel: "AHP (mV)", ylx: 708, yly: 522 });

// ---- scatter panels ----
const purples = ["#7a1f5e", "#6a3aa8", "#4a2ab0"];
scatterPanel({ xd: [200, 500], xr: [667.7, 783.3], yd: [0, 80], yr: [122.7, 20], xt: [200, 300, 400, 500], yt: [0, 20, 40, 60, 80],
  xlabel: "IR (mΩ)", xlx: 726, xly: 148, ylabel: "Rheobase (pA)", ylx: 636, yly: 71, legX: 746, legY: [14.5, 23.5, 32.5], legFs: 8.2,
  series: [{ pts: irRheoWT_aCSF, c: colWTmk[0], shape: "circle" }, { pts: irRheoWT_ASP5, c: colWTmk[1], shape: "down" }, { pts: irRheoWT_ASP30, c: colWTmk[2], shape: "up" }],
  vlines: [{ v: irWT_mean[0] * 1000, c: "#000" }, { v: irWT_mean[1] * 1000, c: colWTmk[1] }, { v: irWT_mean[2] * 1000, c: colWTmk[2] }],
  hlines: [{ v: rheoWT_mean[0], c: "#000" }, { v: rheoWT_mean[1], c: colWTmk[1] }, { v: rheoWT_mean[2], c: colWTmk[2] }] });
scatterPanel({ xd: [-90, -60], xr: [180, 299.3], yd: [0, 80], yr: [265, 164], xt: [-90, -80, -70, -60], yt: [0, 20, 40, 60, 80], yRight: true,
  xlabel: "RMP(mV)", xlx: 237, xly: 286, ylabel: "Rheobase (pA)", ylx: 322, yly: 214, legX: 252, legY: [155, 165.5, 176], legFs: 9,
  vy1: 265, vy2: 160, hx1: 176.7, hx2: 293,
  series: [{ pts: rmpRheoWT_aCSF, c: colWTmk[0], shape: "circle" }, { pts: rmpRheoWT_ASP5, c: colWTmk[1], shape: "down" }, { pts: rmpRheoWT_ASP30, c: colWTmk[2], shape: "up" }],
  vlines: [{ v: rmpWT_mean[0], c: "#000" }, { v: rmpWT_mean[1], c: colWTmk[1] }, { v: rmpWT_mean[2], c: colWTmk[2] }],
  hlines: [{ v: rheoWT_mean[0], c: "#000" }, { v: rheoWT_mean[1], c: colWTmk[1] }, { v: rheoWT_mean[2], c: colWTmk[2] }] });
scatterPanel({ xd: [100, 600], xr: [666.7, 786.7], yd: [0, 150], yr: [429, 326.7], xt: [100, 200, 300, 400, 500, 600], yt: [0, 50, 100, 150],
  xlabel: "IR (mΩ)", xlx: 727, xly: 454, ylabel: "Rheobase (pA)", ylx: 637, yly: 378, legX: 747, legY: [322, 331.7, 341.4], legFs: 8.5,
  series: [{ pts: irRheoKO_aCSF, c: "#c0161c", shape: "diamond" }, { pts: irRheoKO_ASP5, c: "#86b6f2", shape: "down" }, { pts: irRheoKO_ASP30, c: "#1a22c8", shape: "up" }],
  vlines: [{ v: irKO_mean[0] * 1000, c: "#e01e1e" }, { v: irKO_mean[1] * 1000, c: "#86b6f2" }, { v: irKO_mean[2] * 1000, c: "#5a7ae8" }],
  hlines: [{ v: rheoKO_mean[0], c: purples[0] }, { v: rheoKO_mean[1], c: purples[1] }, { v: rheoKO_mean[2], c: purples[2] }] });
scatterPanel({ xd: [-100, -60], xr: [170.7, 289.3], yd: [0, 150], yr: [573.3, 470.7], xt: [-100, -90, -80, -70, -60], yt: [0, 50, 100, 150], yRight: true,
  xlabel: "RMP(mV)", xlx: 223, xly: 595, ylabel: "Rheobase (pA)", ylx: 322, yly: 522, legX: 162.3, legY: [469.3, 479.3, 489.3], msize: 28, legFs: 9,
  vy1: 573, vy2: 467, hx1: 168, hx2: 289,
  series: [{ pts: rmpRheoKO_aCSF, c: "#c0161c", shape: "circle" }, { pts: rmpRheoKO_ASP5, c: "#86b6f2", shape: "down" }, { pts: rmpRheoKO_ASP30, c: "#1a22c8", shape: "up" }],
  vlines: [{ v: rmpKO_mean[0], c: "#e01e1e" }, { v: rmpKO_mean[1], c: "#86b6f2" }, { v: rmpKO_mean[2], c: "#3a4ae0" }],
  hlines: [{ v: rheoKO_mean[0], c: purples[0] }, { v: rheoKO_mean[1], c: purples[1] }, { v: rheoKO_mean[2], c: purples[2] }] });

// ---- f, o single APs ----
apPanel({ x0: 365, pxms: 5, v0: -62, y0: 257, pxmv: 0.6, sbx: 361, sby: 267,
  traces: [{ d: apF_aCSF, c: "#111", w: 1.3 }, { d: apF_ASP5, c: "#f5a0a2", w: 1.5 }, { d: apF_ASP30, c: "#ff1a1a", w: 1.5 }] });
apPanel({ x0: 356.7, pxms: 5.85, v0: -65, y0: 562.7, pxmv: 0.6, sbx: 350, sby: 576,
  traces: [{ d: apO_aCSF, c: "#b01a20", w: 1.3 }, { d: apO_ASP5, c: "#8ab8f4", w: 1.3 }, { d: apO_ASP30, c: "#2a3ad8", w: 1.3 }] });
</script>
</body></html>
